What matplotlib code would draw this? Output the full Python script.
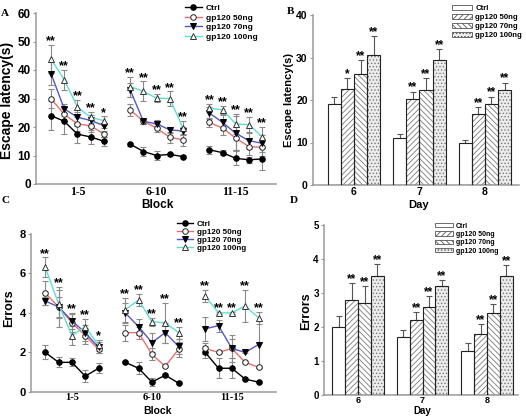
import matplotlib
matplotlib.use('Agg')
import matplotlib.pyplot as plt
import numpy as np
from matplotlib.patches import Patch
from matplotlib.lines import Line2D

plt.rcParams['font.family'] = ['Liberation Sans', 'DejaVu Sans']
plt.rcParams['font.weight'] = 'bold'
plt.rcParams['hatch.linewidth'] = 0.6

# ---------------- data ----------------
series_names = ['Ctrl', 'gp120 50ng', 'gp120 70ng', 'gp120 100ng']
block_labels = ['1-5', '6-10', '11-15']
day_labels = ['6', '7', '8']

# Panel A: escape latency (s), 3 blocks x 5 trials
ctrlA = [24.0, 22.0, 17.5, 16.5, 15.0, 14.0, 11.4, 10.0, 10.4, 9.6, 12.0, 11.0, 9.0, 8.5, 8.8]
ctrlA_err = [5.0, 4.5, 3.0, 2.5, 1.5, 0.5, 1.5, 1.5, 0.5, 0.5, 1.5, 0.8, 2.5, 1.0, 3.8]
g50A = [29.9, 24.5, 21.1, 20.4, 17.6, 26.0, 22.0, 19.6, 16.4, 15.5, 21.6, 19.6, 16.1, 13.1, 12.9]
g50A_err = [3.3, 2.5, 2.5, 2.0, 1.0, 2.0, 0.8, 1.5, 2.0, 2.0, 1.5, 2.5, 4.0, 3.0, 3.0]
g70A = [38.7, 26.4, 23.4, 22.3, 20.5, 33.0, 22.0, 21.1, 19.0, 18.6, 24.9, 21.6, 17.8, 15.2, 14.3]
g70A_err = [4.0, 1.5, 2.0, 2.0, 1.0, 2.5, 0.8, 1.5, 1.0, 1.5, 2.0, 2.5, 6.0, 3.0, 3.0]
g100A = [43.8, 36.6, 27.0, 23.4, 22.2, 34.2, 32.5, 30.1, 30.0, 19.6, 26.6, 26.0, 21.1, 20.8, 16.6]
g100A_err = [5.0, 3.5, 2.5, 2.0, 1.5, 3.5, 3.5, 1.5, 2.5, 2.5, 1.5, 1.5, 3.5, 2.8, 3.5]
starsA = ['**', '**', '**', '**', '*'] + ['**'] * 10

# Panel C: errors, 3 blocks x 5 trials
ctrlC = [2.0, 1.5, 1.5, 0.8, 1.2, 1.5, 1.2, 0.5, 0.85, 0.45, 2.0, 1.2, 1.2, 0.65, 0.5]
ctrlC_err = [0.35, 0.25, 0.2, 0.3, 0.25, 0.05, 0.3, 0.2, 0.05, 0.05, 0.3, 0.5, 0.5, 0.05, 0.05]
g50C = [5.0, 4.3, 3.5, 2.85, 2.15, 3.0, 3.0, 1.9, 1.3, 2.15, 2.2, 2.0, 2.2, 1.5, 1.25]
g50C_err = [0.6, 1.0, 0.45, 0.4, 0.2, 0.4, 0.3, 0.3, 0.05, 0.4, 0.3, 0.05, 0.7, 0.05, 0.05]
g70C = [4.6, 4.3, 3.6, 3.0, 2.25, 4.0, 3.3, 2.5, 3.0, 2.3, 3.2, 3.35, 2.2, 2.0, 2.4]
g70C_err = [0.2, 0.5, 0.4, 0.4, 0.3, 0.5, 0.4, 0.5, 0.5, 0.4, 0.6, 0.3, 0.5, 0.05, 1.2]
g100C = [6.3, 4.45, 2.85, 3.3, 2.35, 4.15, 4.65, 3.55, 3.5, 3.0, 4.85, 4.0, 4.0, 4.35, 3.75]
g100C_err = [0.5, 0.7, 0.5, 0.4, 0.3, 0.6, 0.3, 0.2, 1.0, 0.3, 0.3, 0.05, 0.05, 0.8, 0.3]
starsC = ['**', '**', '**', '**', '*'] + ['**'] * 10

# Panel B: escape latency (s) by day
ctrlB = [19.1, 11.1, 9.9]
ctrlB_err = [1.6, 0.8, 0.8]
g50B = [22.7, 20.2, 16.6]
g50B_err = [2.4, 1.8, 1.7]
g70B = [26.1, 22.4, 19.0]
g70B_err = [3.3, 2.7, 1.8]
g100B = [30.7, 29.3, 22.3]
g100B_err = [4.3, 2.6, 1.8]
starsB = [['', '*', '**', '**'], ['', '**', '**', '**'], ['', '**', '**', '**']]

# Panel D: errors by day
ctrlD = [2.0, 1.7, 1.3]
ctrlD_err = [0.33, 0.2, 0.23]
g50D = [2.8, 2.2, 1.8]
g50D_err = [0.5, 0.23, 0.29]
g70D = [2.7, 2.6, 2.4]
g70D_err = [0.5, 0.3, 0.28]
g100D = [3.5, 3.2, 3.5]
g100D_err = [0.35, 0.17, 0.32]
starsD = [['', '**', '**', '**'], ['', '**', '**', '**'], ['', '**', '**', '**']]

# ---------------- figure ----------------
W, H = 526, 416
fig = plt.figure(figsize=(W / 100, H / 100), dpi=100)


def px_axes(l, r, t, b):
    return fig.add_axes([l / W, 1 - b / H, (r - l) / W, (b - t) / H])


SPINE = '#9a9a9a'
ERR = '#8a8a8a'

line_styles = [
    dict(color='black', marker='o', mfc='black', mec='black'),
    dict(color='#e87070', marker='o', mfc='white', mec='#222222'),
    dict(color='#5656cc', marker='v', mfc='black', mec='black'),
    dict(color='#5fe0cf', marker='^', mfc='white', mec='#333333'),
]


def style_axes(ax, ylim, yticks, xtick_font, ysize, xsize, xpad):
    for s in ['top', 'right']:
        ax.spines[s].set_visible(False)
    for s in ['left', 'bottom']:
        ax.spines[s].set_color(SPINE)
        ax.spines[s].set_linewidth(1.1)
    ax.set_ylim(*ylim)
    ax.set_yticks(yticks)
    ax.tick_params(axis='y', direction='out', length=2.0, color=SPINE, pad=1.8, labelsize=ysize)
    ax.tick_params(axis='x', length=0, pad=xpad)
    for lab in ax.get_yticklabels():
        lab.set_fontweight('bold')
    for lab in ax.get_xticklabels():
        lab.set_fontfamily(xtick_font)
        lab.set_fontweight('bold')
        lab.set_fontsize(xsize)


def line_panel(ax, data, errs, stars, ylim, yticks, xlim, legend_pos, leg_fs, leg_sp,
               ysize, xsize, xpad):
    xs_all = []
    for g in range(3):
        xs_all += [g * 6 + i for i in range(5)]
    xs_all = np.array(xs_all)
    for vals, err, st in zip(data, errs, line_styles):
        ax.errorbar(xs_all, np.array(vals), yerr=np.array(err), fmt='none', ecolor=ERR,
                    elinewidth=0.8, capsize=2, capthick=0.8, zorder=2)
    for vals, st in zip(data, line_styles):
        vals = np.array(vals)
        for g in range(3):
            sl = slice(g * 5, g * 5 + 5)
            ax.plot(xs_all[sl], vals[sl], color=st['color'], lw=1.0, marker=st['marker'],
                    ms=4, mfc=st['mfc'], mec=st['mec'], mew=0.7, zorder=3)
    treated_top = np.max([np.array(v) + np.array(e) for v, e in zip(data[1:], errs[1:])], axis=0)
    for x, top, s in zip(xs_all, treated_top, stars):
        ax.annotate(s, xy=(x, top), xytext=(0, 0.5), textcoords='offset points',
                    ha='center', va='baseline', fontsize=9, fontweight='bold')
    ax.set_xlim(*xlim)
    ax.set_xticks([2, 8, 14])
    ax.set_xticklabels(block_labels)
    style_axes(ax, ylim, yticks, 'Liberation Serif', ysize, xsize, xpad)
    handles = [Line2D([0], [0], color=st['color'], lw=1.0, marker=st['marker'], ms=4,
                      mfc=st['mfc'], mec=st['mec'], mew=0.7) for st in line_styles]
    fig.legend(handles, series_names, loc='upper left', bbox_to_anchor=legend_pos,
               bbox_transform=fig.transFigure, frameon=False,
               handlelength=2.0, handletextpad=0.5, labelspacing=leg_sp, borderpad=0,
               borderaxespad=0, prop={'weight': 'bold', 'size': leg_fs})


bar_styles = [
    dict(facecolor='white', hatch=None),
    dict(facecolor='white', hatch='//////'),
    dict(facecolor='white', hatch='\\\\\\\\\\\\'),
    dict(facecolor='#ececec', hatch='.....'),
]


def bar_panel(ax, data, errs, stars, ylim, yticks, xlim, legend_pos, leg_fs, leg_sp,
              ysize, xsize, xpad):
    offsets = [-1.5, -0.5, 0.5, 1.5]
    centers = np.arange(3) * 5
    for j, (vals, err, st) in enumerate(zip(data, errs, bar_styles)):
        xs = centers + offsets[j]
        vals = np.array(vals)
        err = np.array(err)
        ax.bar(xs, vals, width=1.0, color=st['facecolor'], hatch=st['hatch'],
               edgecolor='#7a7a7a', linewidth=0, zorder=2)
        ax.bar(xs, vals, width=1.0, fill=False, edgecolor='#222222', linewidth=0.8, zorder=3)
        ax.errorbar(xs, vals, yerr=[np.zeros_like(err), err], fmt='none', ecolor='#555555',
                    elinewidth=0.8, capsize=2, capthick=0.8, zorder=1)
        for g in range(3):
            s = stars[g][j]
            if s:
                ax.annotate(s, xy=(xs[g], vals[g] + err[g]), xytext=(0, 0.8),
                            textcoords='offset points', ha='center', va='baseline',
                            fontsize=8.5, fontweight='bold')
    ax.set_xlim(*xlim)
    ax.set_xticks(centers)
    ax.set_xticklabels(day_labels)
    style_axes(ax, ylim, yticks, 'Liberation Sans', ysize, xsize, xpad)
    handles = [Patch(facecolor=st['facecolor'], hatch=st['hatch'], edgecolor='#555555',
                     linewidth=0.6) for st in bar_styles]
    fig.legend(handles, series_names, loc='upper left', bbox_to_anchor=legend_pos,
               bbox_transform=fig.transFigure, frameon=False,
               handlelength=2.6, handleheight=0.55, handletextpad=0.4, labelspacing=leg_sp,
               borderpad=0, borderaxespad=0, prop={'weight': 'bold', 'size': leg_fs})


axA = px_axes(36, 276, 13, 184)
axB = px_axes(313, 519, 15, 185)
axC = px_axes(31, 276, 233.7, 392)
axD = px_axes(324, 518, 225, 395)

line_panel(axA, [ctrlA, g50A, g70A, g100A], [ctrlA_err, g50A_err, g70A_err, g100A_err],
           starsA, (0, 60), range(0, 61, 10), (-1.14, 17.05), (185 / W, 1 - 4.5 / H), 6, 0.2,
           8.5, 8.5, 1.5)
line_panel(axC, [ctrlC, g50C, g70C, g100C], [ctrlC_err, g50C_err, g70C_err, g100C_err],
           starsC, (0, 8), range(0, 9, 2), (-1.07, 17.31), (176.7 / W, 1 - 220.5 / H), 5.8, 0.02,
           8, 7.5, 1.0)
bar_panel(axB, [ctrlB, g50B, g70B, g100B], [ctrlB_err, g50B_err, g70B_err, g100B_err],
          starsB, (0, 40), range(0, 41, 10), (-3.13, 12.6), (452 / W, 1 - 5 / H), 5.6, 0.25,
          7.5, 7.5, 1.5)
bar_panel(axD, [ctrlD, g50D, g70D, g100D], [ctrlD_err, g50D_err, g70D_err, g100D_err],
          starsD, (0, 5), range(0, 6, 1), (-2.64, 12.4), (434.7 / W, 1 - 222.5 / H), 5.0, 0.2,
          7, 6.5, 1.0)


# axis labels (positions given in pixels of the figure)
def labels(ax, xl, yl, xpx, ypx, ylx, yly, xfs, yfs):
    ax.set_xlabel(xl, fontsize=xfs, fontweight='bold')
    ax.set_ylabel(yl, fontsize=yfs, fontweight='bold')
    ax.xaxis.label.set_va('center')
    ax.yaxis.label.set_va('center')
    ax.xaxis.set_label_coords(xpx / W, 1 - ypx / H, transform=fig.transFigure)
    ax.yaxis.set_label_coords(ylx / W, 1 - yly / H, transform=fig.transFigure)


labels(axA, 'Block', 'Escape latency(s)', 157, 205.5, 7, 100, 8.5, 10)
labels(axB, 'Day', 'Escape latency(s)', 419, 205.5, 288.5, 100, 8, 8)
labels(axC, 'Block', 'Errors', 157, 410.5, 9, 308, 7.5, 9)
labels(axD, 'Day', 'Errors', 422.7, 410.5, 305.7, 311, 7, 9)

# panel letters
for letter, x, y in [('A', 1, 13), ('B', 287, 12), ('C', 1, 200), ('D', 290, 200)]:
    fig.text(x / W, 1 - y / H, letter, family='Liberation Serif', fontweight='bold',
             fontsize=8, ha='left', va='center')

fig.savefig('out.png', dpi=100)
